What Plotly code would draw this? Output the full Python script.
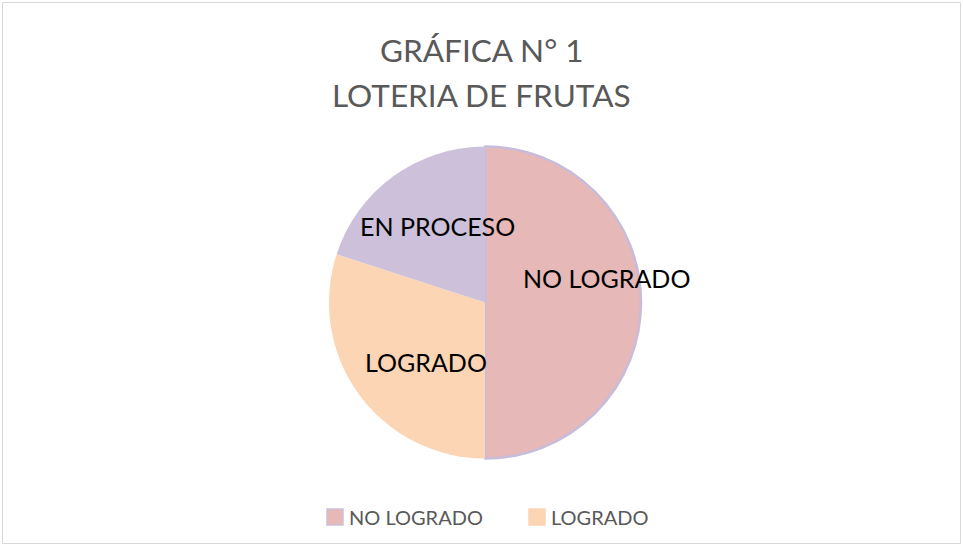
import plotly.graph_objects as go

labels = ["NO LOGRADO", "LOGRADO", "EN PROCESO"]
values = [50, 30, 20]
colors = ["#E6B8B7", "#FCD5B5", "#CCC0DA"]
legend_labels = ["NO LOGRADO", "LOGRADO"]

W, H = 963, 546
FONT = "Lato, 'Open Sans', sans-serif"

fig = go.Figure()
fig.add_trace(go.Pie(
    labels=labels, values=values, sort=False, direction="clockwise", rotation=0,
    marker=dict(colors=colors, line=dict(color=["#C7BCDA", "#FCD5B5", "#CCC0DA"], width=[2.5, 0, 0])),
    textinfo="none", hoverinfo="label+value", showlegend=False,
    domain=dict(x=[329 / W, 641 / W], y=[1 - 459 / H, 1 - 146 / H]),
))

# data labels (positions in pixels)
label_pos = {"NO LOGRADO": (606, 278), "EN PROCESO": (437, 226), "LOGRADO": (426, 362)}
for lab in labels:
    px, py = label_pos[lab]
    fig.add_annotation(x=px / W, y=1 - py / H, xref="paper", yref="paper", text=lab,
                       showarrow=False, font=dict(family=FONT, size=25, color="#000000"),
                       xanchor="center", yanchor="middle")

# title
for txt, py in [("GRÁFICA N° 1", 50), ("LOTERIA DE FRUTAS", 95)]:
    fig.add_annotation(x=0.5, y=1 - py / H, xref="paper", yref="paper", text=txt,
                       showarrow=False, font=dict(family=FONT, size=31.5, color="#595959"),
                       xanchor="center", yanchor="middle")

# legend (manual: only two entries shown in the reference)
leg = [(327, "#E6B8B7", "#CCC0DA"), (529, "#FCD5B5", "#FCD5B5")]
for (sx, fill, edge), lab in zip(leg, legend_labels):
    fig.add_shape(type="rect", xref="paper", yref="paper",
                  x0=sx / W, x1=(sx + 16) / W, y0=1 - 525 / H, y1=1 - 509 / H,
                  fillcolor=fill, line=dict(color=edge, width=1.5))
    fig.add_annotation(x=(sx + 20) / W, y=1 - 517 / H, xref="paper", yref="paper", text=lab,
                       showarrow=False, font=dict(family=FONT, size=20, color="#595959"),
                       xanchor="left", yanchor="middle")

# chart border
fig.add_shape(type="rect", xref="paper", yref="paper", x0=2.5 / W, x1=960.5 / W,
              y0=1 - 543.5 / H, y1=1 - 2.5 / H, line=dict(color="#D9D9D9", width=1),
              fillcolor="rgba(0,0,0,0)")

fig.update_layout(width=W, height=H, margin=dict(l=0, r=0, t=0, b=0),
                  paper_bgcolor="white", plot_bgcolor="white", showlegend=False)

fig.write_html("out.html", config={"displayModeBar": False},
               post_script="document.body.style.margin='0';document.body.style.padding='0';")
